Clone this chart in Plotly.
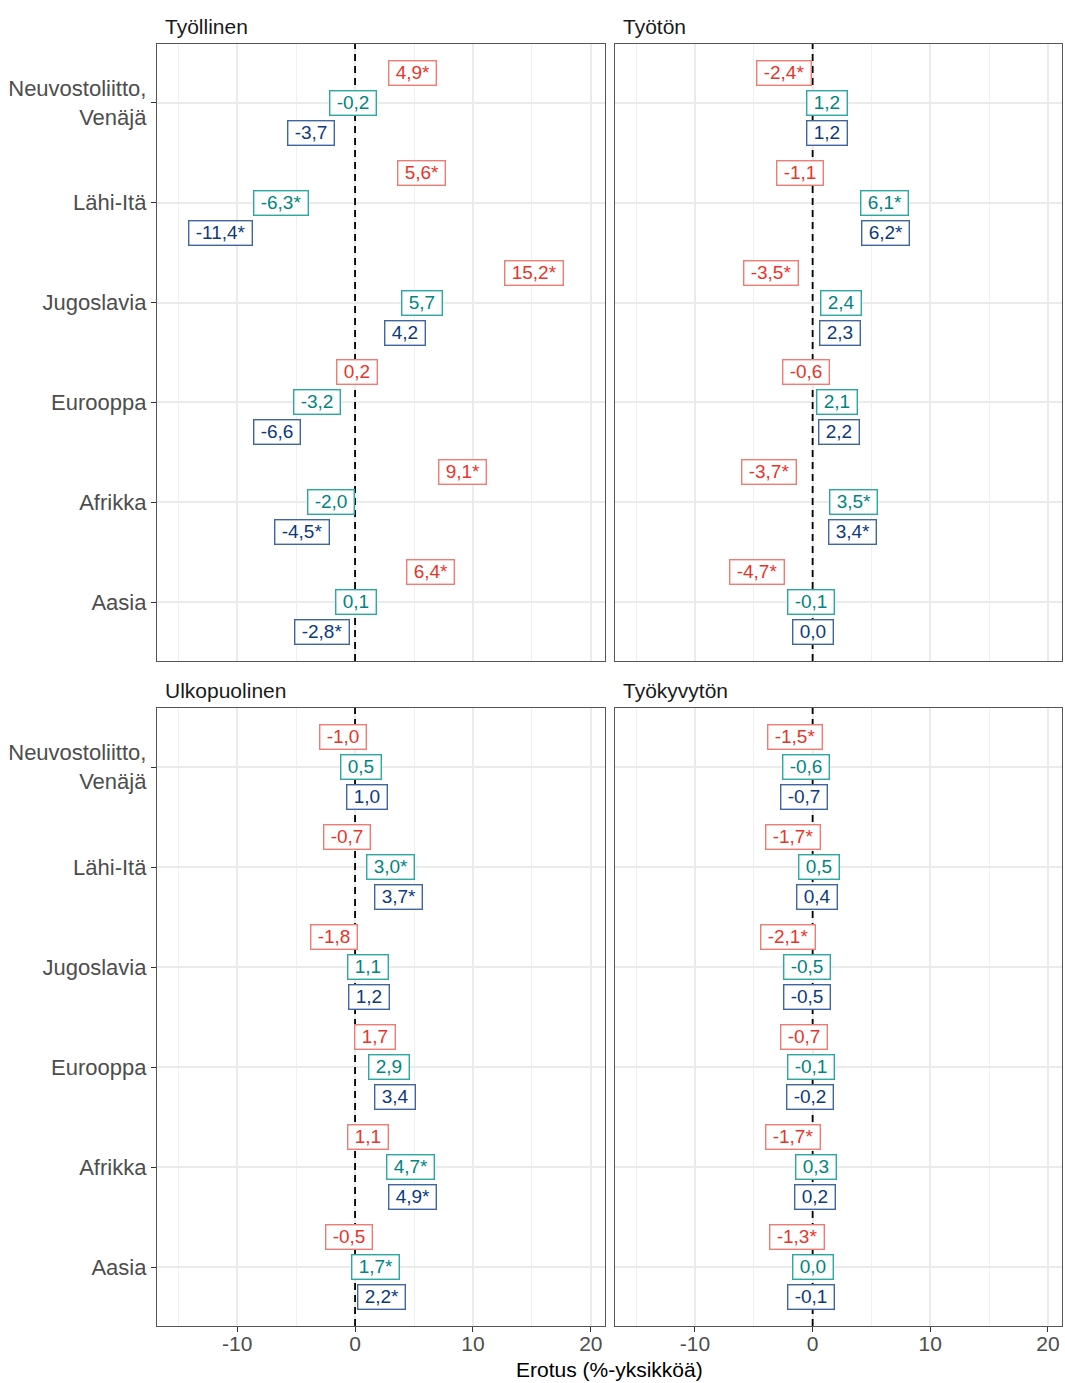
import plotly.graph_objects as go
from plotly.subplots import make_subplots

categories = ["Neuvostoliitto,<br>Venäjä", "Lähi-Itä", "Jugoslavia", "Eurooppa", "Afrikka", "Aasia"]
panels = ["Työllinen", "Työtön", "Ulkopuolinen", "Työkyvytön"]

# values per panel, for the three groups (red / teal / blue), in category order
red_vals = {
    "Työllinen": [4.9, 5.6, 15.2, 0.2, 9.1, 6.4],
    "Työtön": [-2.4, -1.1, -3.5, -0.6, -3.7, -4.7],
    "Ulkopuolinen": [-1.0, -0.7, -1.8, 1.7, 1.1, -0.5],
    "Työkyvytön": [-1.5, -1.7, -2.1, -0.7, -1.7, -1.3],
}
red_sig = {
    "Työllinen": [1, 1, 1, 0, 1, 1],
    "Työtön": [1, 0, 1, 0, 1, 1],
    "Ulkopuolinen": [0, 0, 0, 0, 0, 0],
    "Työkyvytön": [1, 1, 1, 0, 1, 1],
}
teal_vals = {
    "Työllinen": [-0.2, -6.3, 5.7, -3.2, -2.0, 0.1],
    "Työtön": [1.2, 6.1, 2.4, 2.1, 3.5, -0.1],
    "Ulkopuolinen": [0.5, 3.0, 1.1, 2.9, 4.7, 1.7],
    "Työkyvytön": [-0.6, 0.5, -0.5, -0.1, 0.3, 0.0],
}
teal_sig = {
    "Työllinen": [0, 1, 0, 0, 0, 0],
    "Työtön": [0, 1, 0, 0, 1, 0],
    "Ulkopuolinen": [0, 1, 0, 0, 1, 1],
    "Työkyvytön": [0, 0, 0, 0, 0, 0],
}
blue_vals = {
    "Työllinen": [-3.7, -11.4, 4.2, -6.6, -4.5, -2.8],
    "Työtön": [1.2, 6.2, 2.3, 2.2, 3.4, 0.0],
    "Ulkopuolinen": [1.0, 3.7, 1.2, 3.4, 4.9, 2.2],
    "Työkyvytön": [-0.7, 0.4, -0.5, -0.2, 0.2, -0.1],
}
blue_sig = {
    "Työllinen": [0, 1, 0, 0, 1, 1],
    "Työtön": [0, 1, 0, 0, 1, 0],
    "Ulkopuolinen": [0, 1, 0, 0, 1, 1],
    "Työkyvytön": [0, 0, 0, 0, 0, 0],
}

x_ticks = [-10, 0, 10, 20]
x_ticktext = ["-10", "0", "10", "20"]
x_title = "Erotus (%-yksikköä)"

groups = [
    (red_vals, red_sig, "#E8352B", "#F07B72", 0.3),
    (teal_vals, teal_sig, "#00857F", "#2AA8A1", 0.0),
    (blue_vals, blue_sig, "#0C3A7D", "#3F66A0", -0.3),
]

FONT = "Liberation Sans, Arial, sans-serif"
W, H = 1065, 1383
ml, mr, mt, mb = 157, 3, 44, 57
pw, ph = W - ml - mr, H - mt - mb

fig = make_subplots(rows=2, cols=2)

n = len(categories)
ypos = [n - i for i in range(n)]

def fmt(v, s):
    t = f"{v:.1f}".replace(".", ",")
    if t == "-0,0":
        t = "0,0"
    return " " + t + ("*" if s else "") + " "

xdom = [[0, 448 / pw], [458 / pw, 1]]
ydom = [[(1326 - 661) / ph, 1], [0, (1326 - 708) / ph]]

annotations = []
for k, p in enumerate(panels):
    r, c = k // 2 + 1, k % 2 + 1
    ax_i = "" if k == 0 else str(k + 1)
    xs, ys = [], []
    for vals, sig, tc, bc, off in groups:
        for i, v in enumerate(vals[p]):
            xs.append(v)
            ys.append(ypos[i] + off)
            annotations.append(dict(
                x=v, y=ypos[i] + off, xref="x" + ax_i, yref="y" + ax_i,
                text=fmt(v, sig[p][i]), showarrow=False,
                font=dict(family=FONT, size=19, color=tc),
                bgcolor="white", bordercolor=bc, borderwidth=1.4, borderpad=1,
                xanchor="center", yanchor="middle",
            ))
    fig.add_trace(go.Scatter(x=xs, y=ys, mode="markers", marker=dict(opacity=0),
                             hoverinfo="skip", showlegend=False), row=r, col=c)
    fig.add_vline(x=0, row=r, col=c, line=dict(color="black", width=1.8, dash="7px,5px"))
    # strip title
    annotations.append(dict(
        x=xdom[c - 1][0], y=ydom[r - 1][1], xref="paper", yref="paper",
        text=p, showarrow=False, xanchor="left", yanchor="bottom",
        xshift=6, yshift=4, font=dict(family=FONT, size=21, color="#1A1A1A"),
    ))

annotations.append(dict(
    x=0.5, y=0, xref="paper", yref="paper", text=x_title, showarrow=False,
    xanchor="center", yanchor="top", yshift=-30,
    font=dict(family=FONT, size=21, color="black"),
))

for k in range(4):
    r, c = k // 2 + 1, k % 2 + 1
    xa = "xaxis" if k == 0 else f"xaxis{k + 1}"
    ya = "yaxis" if k == 0 else f"yaxis{k + 1}"
    fig.layout[xa].update(
        domain=xdom[c - 1], range=[-16.8, 21.2], tickvals=x_ticks, ticktext=x_ticktext,
        showticklabels=(r == 2), ticks="outside" if r == 2 else "",
        ticklen=5, tickcolor="#333333", tickwidth=1.2, ticklabelstandoff=-6,
        showgrid=True, gridcolor="#EBEBEB", gridwidth=1.6, zeroline=False,
        minor=dict(tickvals=[-15, -5, 5, 15], showgrid=True, gridcolor="#EFEFEF", gridwidth=1.0),
        showline=True, mirror=True, linecolor="#555555", linewidth=1.3,
        tickfont=dict(family=FONT, size=21, color="#4D4D4D"),
        fixedrange=True,
    )
    fig.layout[ya].update(
        domain=ydom[r - 1], range=[0.41, 6.59], tickvals=ypos, ticktext=categories,
        showticklabels=(c == 1), ticks="outside" if c == 1 else "",
        ticklen=5, tickcolor="#333333", tickwidth=1.2,
        showgrid=True, gridcolor="#EBEBEB", gridwidth=1.6, zeroline=False,
        showline=True, mirror=True, linecolor="#555555", linewidth=1.3,
        tickfont=dict(family=FONT, size=22, color="#4D4D4D"),
        fixedrange=True,
    )

fig.update_layout(
    width=W, height=H, margin=dict(l=ml, r=mr, t=mt, b=mb, autoexpand=False),
    paper_bgcolor="white", plot_bgcolor="white",
    annotations=annotations, showlegend=False,
    font=dict(family=FONT),
)

fig.write_html("out.html", config={"displayModeBar": False})

# remove the default page margin so the figure sits at the window's corner
with open("out.html", "r", encoding="utf-8") as f:
    html = f.read()
html = html.replace("<head>", "<head><style>html,body{margin:0;padding:0;}</style>", 1)
with open("out.html", "w", encoding="utf-8") as f:
    f.write(html)
